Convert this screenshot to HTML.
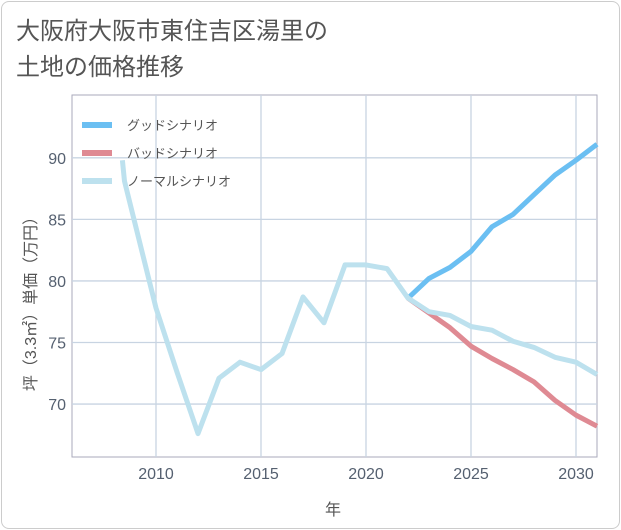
<!DOCTYPE html>
<html><head><meta charset="utf-8"><style>
body{margin:0;background:#fff;}
#wrap{position:relative;width:621px;height:530px;}
#card{position:absolute;left:1px;top:1px;width:617px;height:526px;border:1px solid #ccc;border-radius:8px;background:#fff;}
#title{position:absolute;left:16px;top:14px;font:24px "Liberation Sans","Noto Sans CJK JP",sans-serif;color:#555;line-height:36px;}
svg{position:absolute;left:0;top:0;}
text{font-family:"Liberation Sans","Noto Sans CJK JP",sans-serif;}
</style></head><body>
<div id="wrap">
<div id="card"></div>
<div id="title">大阪府大阪市東住吉区湯里の<br>土地の価格推移</div>
<svg id="chart" width="621" height="530"></svg>
</div>
<script>
const xTicks=[2010,2015,2020,2025,2030];
const yTicks=[70,75,80,85,90];
const normalYears=[2008.4,2008.5,2010,2011,2012,2013,2014,2015,2016,2017,2018,2019,2020,2021,2022,2023,2024,2025,2026,2027,2028,2029,2030,2031];
const normalVals=[89.8,88.1,77.8,72.6,67.6,72.1,73.4,72.8,74.1,78.7,76.6,81.3,81.3,81.0,78.6,77.5,77.2,76.3,76.0,75.1,74.6,73.8,73.4,72.4];
const futureYears=[2022,2023,2024,2025,2026,2027,2028,2029,2030,2031];
const goodVals=[78.6,80.2,81.1,82.4,84.4,85.4,87.0,88.6,89.8,91.1];
const badVals=[78.6,77.4,76.2,74.7,73.7,72.8,71.8,70.3,69.1,68.2];
const X0=72,X1=597,Y0=457,Y1=95,xMin=2006,xMax=2031,yMin=65.7,yMax=95.1;
const sx=v=>X0+(v-xMin)/(xMax-xMin)*(X1-X0);
const sy=v=>Y0-(v-yMin)/(yMax-yMin)*(Y0-Y1);
const svg=document.getElementById('chart');const NS='http://www.w3.org/2000/svg';
function mk(t,a,p){const e=document.createElementNS(NS,t);for(const k in a)e.setAttribute(k,a[k]);(p||svg).appendChild(e);return e;}
const frame=mk('rect',{x:X0,y:Y1,width:X1-X0,height:Y0-Y1,fill:'none',stroke:'#aab',"stroke-width":1});


xTicks.forEach(v=>{const l=mk('line',{x1:sx(v),x2:sx(v),y1:Y1,y2:Y0,stroke:'#c8d4e2',"stroke-width":1.3});


const t=mk('text',{x:sx(v),y:Y0+22,"text-anchor":"middle","font-size":16,fill:'#556070'});t.textContent=v;

});
yTicks.forEach(v=>{const l=mk('line',{x1:X0,x2:X1,y1:sy(v),y2:sy(v),stroke:'#c8d4e2',"stroke-width":1.3});


const t=mk('text',{x:X0-6,y:sy(v)+6,"text-anchor":"end","font-size":16,fill:'#556070'});t.textContent=v;

});
function line(xs,ys,c,name){const p=mk('polyline',{points:xs.map((x,i)=>sx(x)+','+sy(ys[i])).join(' '),fill:'none',stroke:c,"stroke-width":5,"stroke-linejoin":"round"});

}
line(futureYears,goodVals,'#6bbff2','good-scenario-line');
line(futureYears,badVals,'#df8a93','bad-scenario-line');
line(normalYears,normalVals,'#bde1ee','normal-scenario-line');
const leg=[['グッドシナリオ','#6bbff2'],['バッドシナリオ','#df8a93'],['ノーマルシナリオ','#bde1ee']];
leg.forEach((d,i)=>{const y=125+i*28;const r=mk('rect',{x:82,y:y-3,width:30,height:6,fill:d[1]});


const t=mk('text',{x:127,y:y+5,"font-size":13,fill:'#555'});t.textContent=d[0];

});
const xt=mk('text',{x:333,y:515,"text-anchor":"middle","font-size":16,fill:'#555'});xt.textContent='年';


const yt=mk('text',{x:0,y:0,"text-anchor":"middle","font-size":16,fill:'#555',transform:'translate(36,300) rotate(-90)'});yt.textContent='坪（3.3㎡）単価（万円）';


</script>
</body></html>
